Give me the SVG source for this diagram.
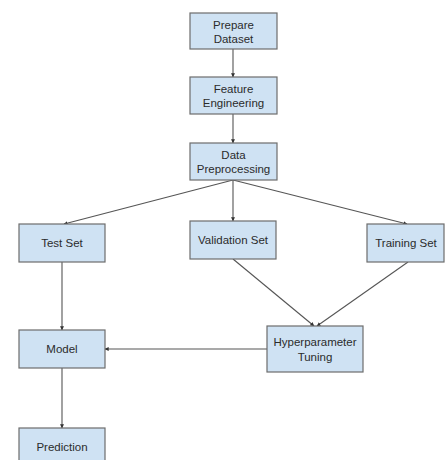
<svg xmlns="http://www.w3.org/2000/svg" width="445" height="460" viewBox="0 0 445 460">
<style>
.box{fill:#cfe2f3;stroke:#6d6d6d;stroke-width:1.2}
.t{font-family:"Liberation Sans",Arial,sans-serif;font-size:11.5px;fill:#2b2b2b;text-anchor:middle}
.c{stroke:#555;stroke-width:1.1;fill:none;marker-end:url(#a)}
</style>
<defs>
<marker id="a" viewBox="0 0 6 6" refX="5.5" refY="3" markerWidth="4" markerHeight="4" orient="auto" markerUnits="userSpaceOnUse">
<path d="M0,0 L6,3 L0,6 z" fill="#333"/>
</marker>
</defs>
<rect width="445" height="460" fill="#fff"/>
<g id="connectors">
<line class="c" x1="233" y1="49" x2="233" y2="77"/>
<line class="c" x1="233" y1="114" x2="233" y2="143"/>
<line class="c" x1="233" y1="180" x2="64" y2="224"/>
<line class="c" x1="233" y1="180" x2="233" y2="221"/>
<line class="c" x1="233" y1="180" x2="407" y2="224"/>
<line class="c" x1="233" y1="259" x2="314" y2="326"/>
<line class="c" x1="408" y1="262" x2="317" y2="326"/>
<line class="c" x1="267" y1="349" x2="105" y2="349"/>
<line class="c" x1="62" y1="262" x2="62" y2="330"/>
<line class="c" x1="62" y1="368" x2="62" y2="428"/>
</g>
<g id="prepare"><rect class="box" x="190" y="13" width="87" height="36"/><text class="t" x="233.5" y="29">Prepare</text><text class="t" x="233.5" y="43">Dataset</text></g>
<g id="feature"><rect class="box" x="190" y="77" width="87" height="37"/><text class="t" x="233.5" y="93">Feature</text><text class="t" x="233.5" y="107">Engineering</text></g>
<g id="preproc"><rect class="box" x="190" y="143" width="87" height="37"/><text class="t" x="233.5" y="159">Data</text><text class="t" x="233.5" y="173">Preprocessing</text></g>
<g id="test"><rect class="box" x="19" y="224" width="86" height="38"/><text class="t" x="62" y="247">Test Set</text></g>
<g id="validation"><rect class="box" x="190" y="221" width="86" height="38"/><text class="t" x="233" y="244">Validation Set</text></g>
<g id="training"><rect class="box" x="367" y="224" width="77" height="38"/><text class="t" x="406" y="247">Training Set</text></g>
<g id="model"><rect class="box" x="19" y="330" width="86" height="38"/><text class="t" x="62" y="353">Model</text></g>
<g id="hyper"><rect class="box" x="267" y="326" width="96" height="46"/><text class="t" x="315" y="346">Hyperparameter</text><text class="t" x="315" y="361">Tuning</text></g>
<g id="prediction"><rect class="box" x="19" y="428" width="86" height="38"/><text class="t" x="62" y="451">Prediction</text></g>
</svg>
